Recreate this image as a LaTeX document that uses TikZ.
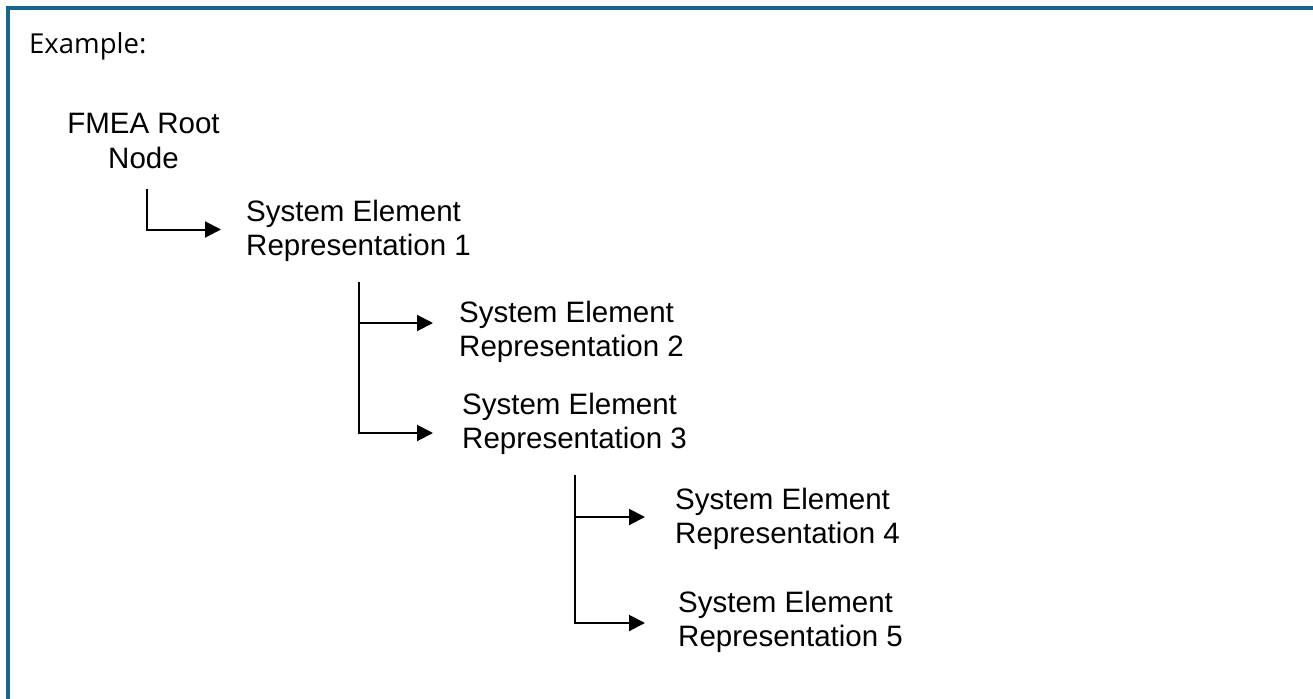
\documentclass[tikz,border=0pt]{standalone}
\usepackage{fontspec}
\setmainfont{Liberation Sans}
\newfontfamily\headfont{Open Sans}
\usepackage{xcolor}
\usetikzlibrary{arrows.meta,positioning}
\definecolor{framebl}{RGB}{22,102,142}

\begin{document}
\begin{tikzpicture}[x=1pt, y=-1pt,
  elem/.style={anchor=west, align=left, inner sep=0pt,
               font=\fontsize{29.5}{34.5}\selectfont},
  link/.style={line width=2pt, -{Triangle[length=16pt,width=16pt]}}]
  \useasboundingbox (0,0) rectangle (1313,698);

  % frame (open at right and bottom)
  \draw[framebl, line width=3.4pt] (8,702) -- (8,8) -- (1317,8);
  \node[anchor=base west, inner sep=0pt, font=\headfont\fontsize{27.5}{31}\selectfont]
    (title) at (29,54) {Example:};

  % tree of elements
  \node[elem, anchor=center, align=center] (root) at (143.5,141) {FMEA Root\\Node};
  \node[elem] (e1) at (246,231) {System Element\\Representation 1};
  \node[elem] (e2) at (459,332) {System Element\\Representation 2};
  \node[elem] (e3) at (462,424) {System Element\\Representation 3};
  \node[elem] (e4) at (675,519) {System Element\\Representation 4};
  \node[elem] (e5) at (678,622) {System Element\\Representation 5};

  % connectors
  \draw[link] ([xshift=3pt,yshift=-20pt]root.south) |- ([xshift=-25pt,yshift=1.5pt]e1.west);
  \draw[link] ([yshift=-20pt]e1.south) |- ([xshift=-26pt,yshift=9pt]e2.west);
  \draw[link] ([yshift=-20pt]e1.south) |- ([xshift=-29pt,yshift=-9pt]e3.west);
  \draw[link] ([yshift=-20pt]e3.south) |- ([xshift=-30pt,yshift=2pt]e4.west);
  \draw[link] ([yshift=-20pt]e3.south) |- ([xshift=-33pt,yshift=-1pt]e5.west);

\end{tikzpicture}
\end{document}
